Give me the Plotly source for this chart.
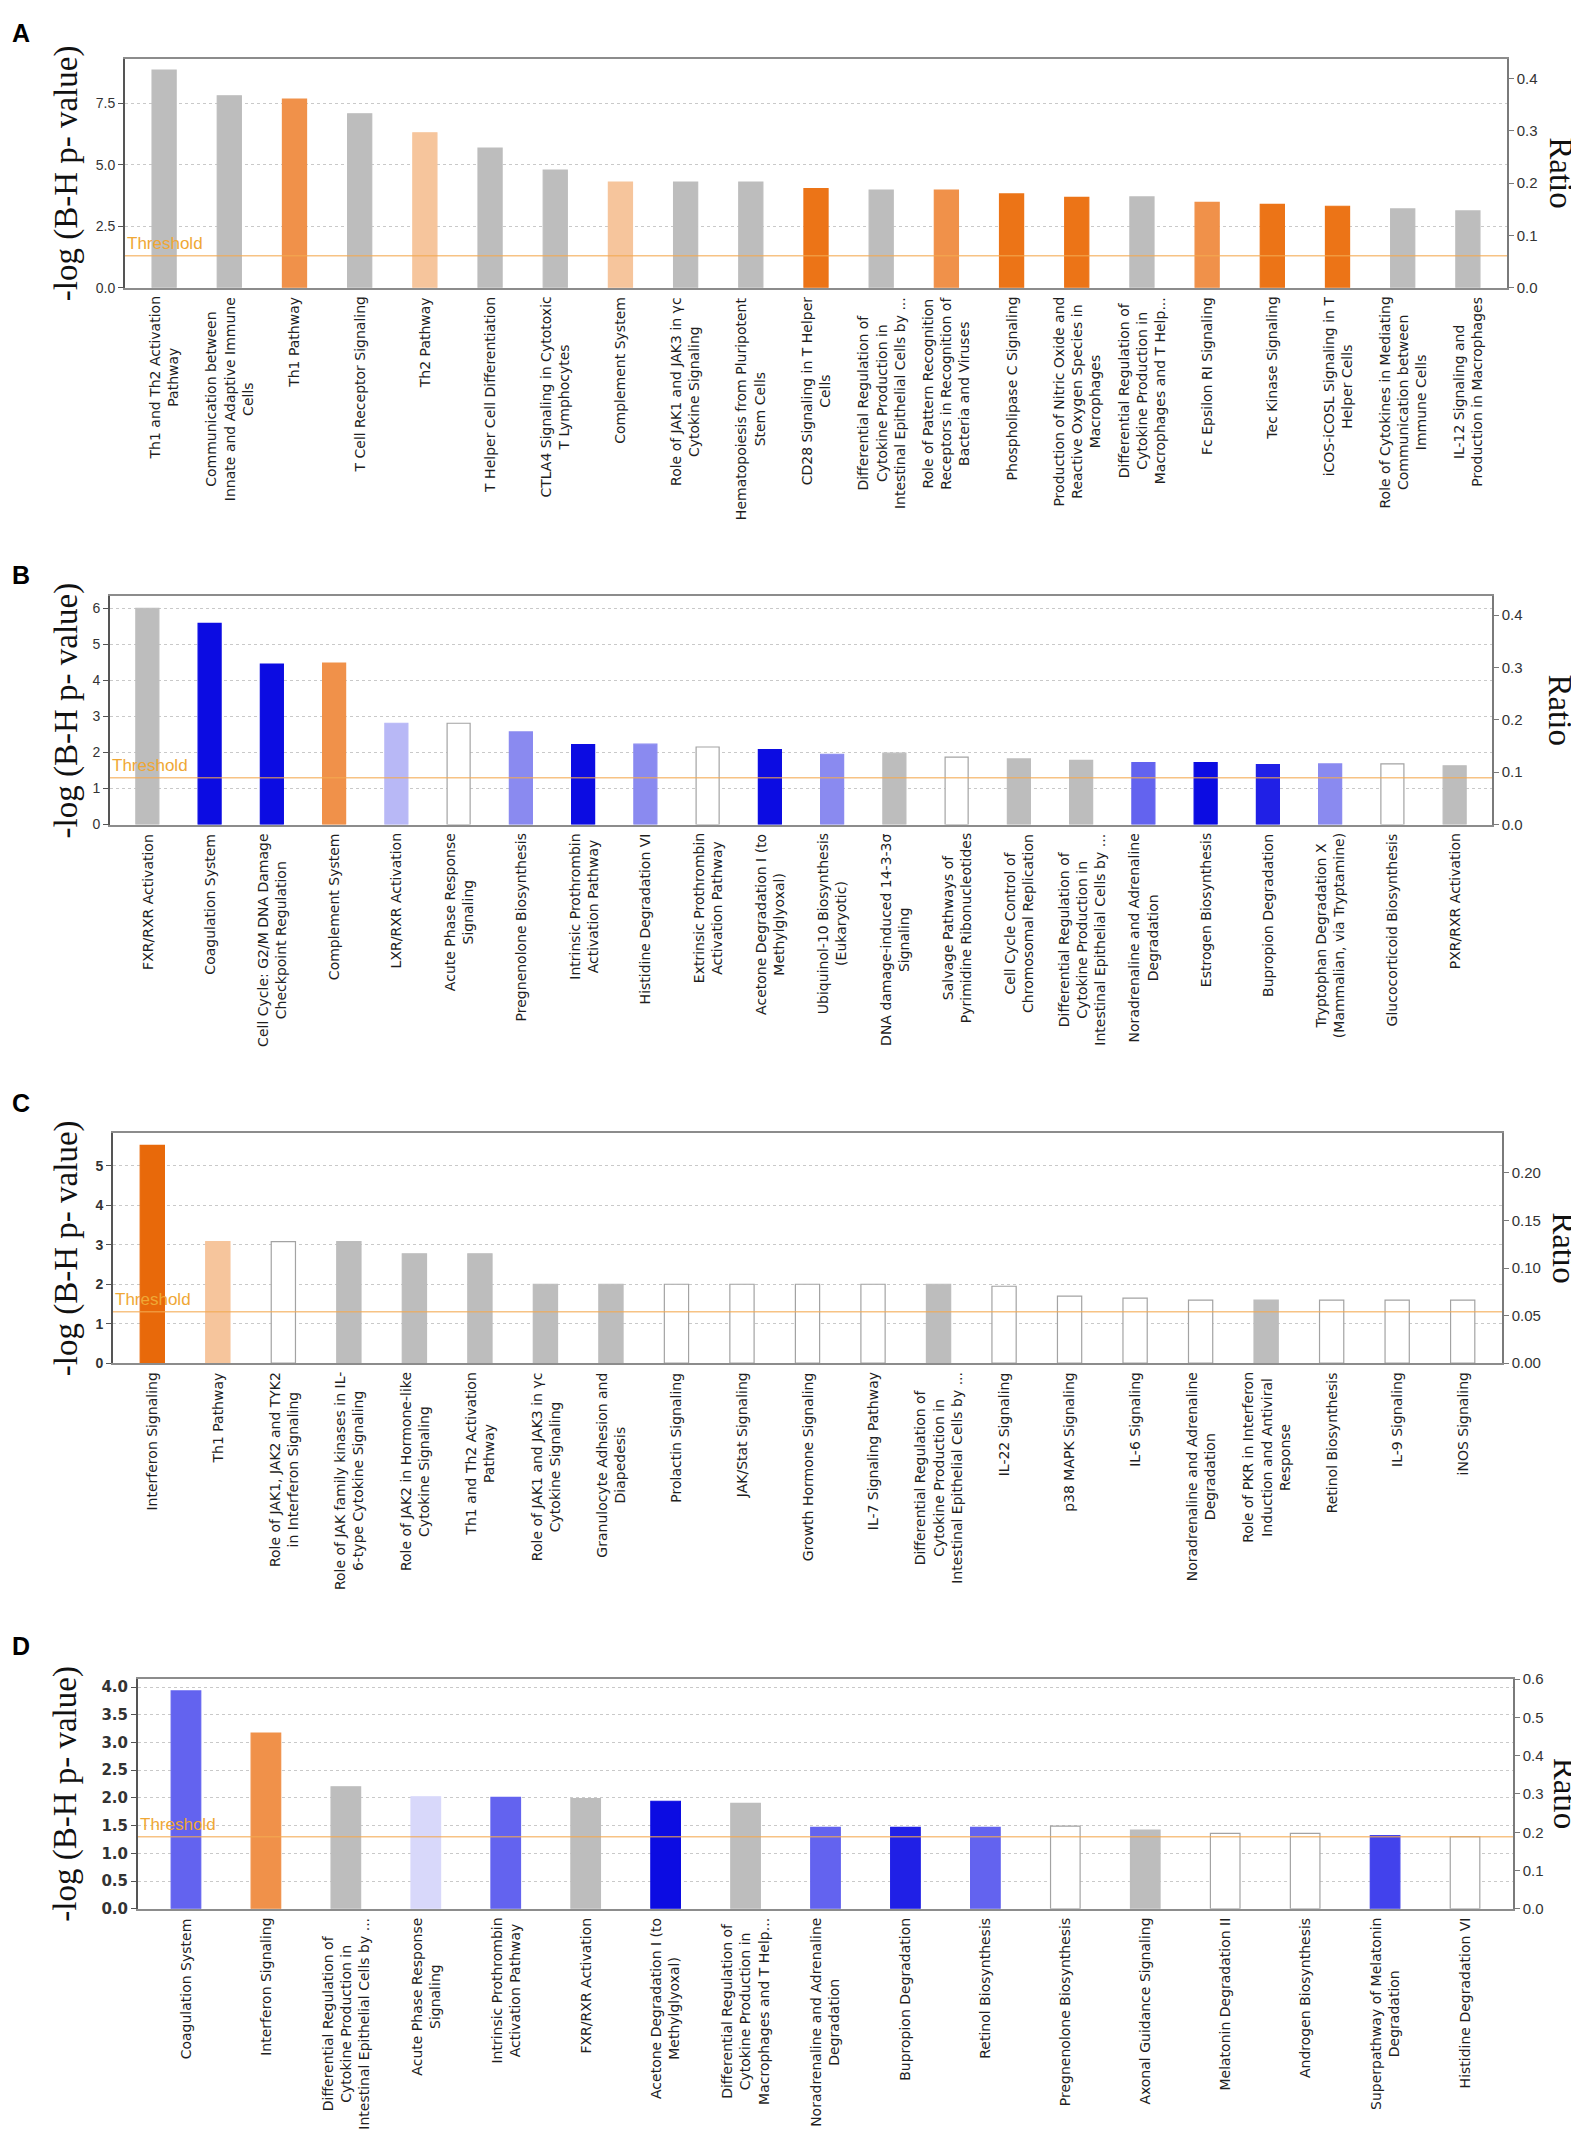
import plotly.graph_objects as go

# ---------------- data ----------------
THRESHOLD = 1.301  # -log10(0.05)

labels_A = [
    "Th1 and Th2 Activation<br>Pathway",
    "Communication between<br>Innate and Adaptive Immune<br>Cells",
    "Th1 Pathway",
    "T Cell Receptor Signaling",
    "Th2 Pathway",
    "T Helper Cell Differentiation",
    "CTLA4 Signaling in Cytotoxic<br>T Lymphocytes",
    "Complement System",
    "Role of JAK1 and JAK3 in γc<br>Cytokine Signaling",
    "Hematopoiesis from Pluripotent<br>Stem Cells",
    "CD28 Signaling in T Helper<br>Cells",
    "Differential Regulation of<br>Cytokine Production in<br>Intestinal Epithelial Cells by ...",
    "Role of Pattern Recognition<br>Receptors in Recognition of<br>Bacteria and Viruses",
    "Phospholipase C Signaling",
    "Production of Nitric Oxide and<br>Reactive Oxygen Species in<br>Macrophages",
    "Differential Regulation of<br>Cytokine Production in<br>Macrophages and T Help...",
    "Fc Epsilon RI Signaling",
    "Tec Kinase Signaling",
    "iCOS-iCOSL Signaling in T<br>Helper Cells",
    "Role of Cytokines in Mediating<br>Communication between<br>Immune Cells",
    "IL-12 Signaling and<br>Production in Macrophages",
]
values_A = [8.84, 7.79, 7.66, 7.06, 6.29, 5.67, 4.78, 4.29, 4.29, 4.29, 4.03,
            3.97, 3.97, 3.81, 3.67, 3.69, 3.47, 3.39, 3.31, 3.20, 3.12]
state_A = ["G", "G", "O2", "G", "O3", "G", "G", "O3", "G", "G", "O1",
           "G", "O2", "O1", "O1", "G", "O2", "O1", "O1", "G", "G"]

labels_B = [
    "FXR/RXR Activation",
    "Coagulation System",
    "Cell Cycle: G2/M DNA Damage<br>Checkpoint Regulation",
    "Complement System",
    "LXR/RXR Activation",
    "Acute Phase Response<br>Signaling",
    "Pregnenolone Biosynthesis",
    "Intrinsic Prothrombin<br>Activation Pathway",
    "Histidine Degradation VI",
    "Extrinsic Prothrombin<br>Activation Pathway",
    "Acetone Degradation I (to<br>Methylglyoxal)",
    "Ubiquinol-10 Biosynthesis<br>(Eukaryotic)",
    "DNA damage-induced 14-3-3σ<br>Signaling",
    "Salvage Pathways of<br>Pyrimidine Ribonucleotides",
    "Cell Cycle Control of<br>Chromosomal Replication",
    "Differential Regulation of<br>Cytokine Production in<br>Intestinal Epithelial Cells by ...",
    "Noradrenaline and Adrenaline<br>Degradation",
    "Estrogen Biosynthesis",
    "Bupropion Degradation",
    "Tryptophan Degradation X<br>(Mammalian, via Tryptamine)",
    "Glucocorticoid Biosynthesis",
    "PXR/RXR Activation",
]
values_B = [6.00, 5.58, 4.45, 4.48, 2.81, 2.81, 2.57, 2.22, 2.23, 2.15, 2.08,
            1.95, 1.98, 1.87, 1.82, 1.78, 1.72, 1.72, 1.66, 1.68, 1.68, 1.63]
state_B = ["G", "B1", "B1", "O2", "B5", "W", "B4", "B1", "B4", "W", "B1",
           "B4", "G", "W", "G", "G", "B3", "B1", "B1b", "B4", "W", "G"]

labels_C = [
    "Interferon Signaling",
    "Th1 Pathway",
    "Role of JAK1, JAK2 and TYK2<br>in Interferon Signaling",
    "Role of JAK family kinases in IL-<br>6-type Cytokine Signaling",
    "Role of JAK2 in Hormone-like<br>Cytokine Signaling",
    "Th1 and Th2 Activation<br>Pathway",
    "Role of JAK1 and JAK3 in γc<br>Cytokine Signaling",
    "Granulocyte Adhesion and<br>Diapedesis",
    "Prolactin Signaling",
    "JAK/Stat Signaling",
    "Growth Hormone Signaling",
    "IL-7 Signaling Pathway",
    "Differential Regulation of<br>Cytokine Production in<br>Intestinal Epithelial Cells by ...",
    "IL-22 Signaling",
    "p38 MAPK Signaling",
    "IL-6 Signaling",
    "Noradrenaline and Adrenaline<br>Degradation",
    "Role of PKR in Interferon<br>Induction and Antiviral<br>Response",
    "Retinol Biosynthesis",
    "IL-9 Signaling",
    "iNOS Signaling",
]
values_C = [5.52, 3.08, 3.08, 3.08, 2.77, 2.77, 2.00, 2.00, 2.00, 2.00, 2.00,
            2.00, 2.00, 1.95, 1.70, 1.65, 1.60, 1.60, 1.60, 1.60, 1.60]
state_C = ["O0", "O3", "W", "G", "G", "G", "G", "G", "W", "W", "W",
           "W", "G", "W", "W", "W", "W", "G", "W", "W", "W"]

labels_D = [
    "Coagulation System",
    "Interferon Signaling",
    "Differential Regulation of<br>Cytokine Production in<br>Intestinal Epithelial Cells by ...",
    "Acute Phase Response<br>Signaling",
    "Intrinsic Prothrombin<br>Activation Pathway",
    "FXR/RXR Activation",
    "Acetone Degradation I (to<br>Methylglyoxal)",
    "Differential Regulation of<br>Cytokine Production in<br>Macrophages and T Help...",
    "Noradrenaline and Adrenaline<br>Degradation",
    "Bupropion Degradation",
    "Retinol Biosynthesis",
    "Pregnenolone Biosynthesis",
    "Axonal Guidance Signaling",
    "Melatonin Degradation II",
    "Androgen Biosynthesis",
    "Superpathway of Melatonin<br>Degradation",
    "Histidine Degradation VI",
]
values_D = [3.93, 3.17, 2.20, 2.02, 2.01, 1.99, 1.94, 1.90, 1.47, 1.47, 1.47,
            1.49, 1.42, 1.36, 1.36, 1.32, 1.30]
state_D = ["B3", "O2", "G", "B6", "B3", "G", "B1", "G", "B3", "B1b", "B3",
           "W", "G", "W", "W", "B2", "W"]

# ---------------- styles ----------------
PALETTE = {
    "O0": "#e8690a", "O1": "#ec7417", "O2": "#f0914a", "O3": "#f6c59c",
    "B1": "#0c0ce2", "B1b": "#2020e6", "B2": "#4242ec", "B3": "#6363ef",
    "B4": "#8a8af0", "B5": "#b8b8f6", "B6": "#d8d8fa",
    "G": "#bdbdbd", "W": "#ffffff",
}
EDGE = {"W": "#a3a3a3"}

W, H = 1579, 2141

TICK_NORMAL = dict(family="Liberation Sans, Arial, sans-serif", size=14, color="#333333")
TICK_BOLD = dict(family="Liberation Sans, Arial, sans-serif", size=14, color="#333333",
                 weight="bold")
TICK_WIDE = dict(family="DejaVu Sans, Verdana, sans-serif", size=15, color="#333333",
                 weight="bold")
LABELFONT = dict(family="DejaVu Sans, Verdana, sans-serif", size=14, color="#1e1e1e")
TITLEFONT = dict(family="Liberation Serif, Times New Roman, serif", size=33, color="#111111")

panels = [
    dict(letter="A", labels=labels_A, values=values_A, states=state_A,
         ymax=9.3, ydtick=2.5, yfmt=".1f", rmax=0.4377, rdtick=0.1, rfmt=".1f",
         px=(117, 1499), py=(43, 274), letter_y=17, ratio_x=1553, tickfont=TICK_NORMAL),
    dict(letter="B", labels=labels_B, values=values_B, states=state_B,
         ymax=6.33, ydtick=1, yfmt="d", rmax=0.4357, rdtick=0.1, rfmt=".1f",
         px=(102, 1484), py=(585, 815), letter_y=563, ratio_x=1552, tickfont=TICK_NORMAL),
    dict(letter="C", labels=labels_C, values=values_C, states=state_C,
         ymax=5.83, ydtick=1, yfmt="d", rmax=0.242, rdtick=0.05, rfmt=".2f",
         px=(105, 1494), py=(1126, 1358), letter_y=1096, ratio_x=1556, tickfont=TICK_BOLD),
    dict(letter="D", labels=labels_D, values=values_D, states=state_D,
         ymax=4.15, ydtick=0.5, yfmt=".1f", rmax=0.601, rdtick=0.1, rfmt=".1f",
         px=(130, 1505), py=(1676, 1908), letter_y=1643, ratio_x=1557, tickfont=TICK_WIDE),
]

fig = go.Figure()
annotations = []
shapes = []
layout = {}

for i, p in enumerate(panels):
    n = len(p["labels"])
    xs = "" if i == 0 else str(i + 1)
    xa = "x" + xs
    yl_n, yr_n = 2 * i + 1, 2 * i + 2
    yl = "y" if yl_n == 1 else f"y{yl_n}"
    yr = f"y{yr_n}"
    xdom = [p["px"][0] / W, p["px"][1] / W]
    ydom = [1 - p["py"][1] / H, 1 - p["py"][0] / H]

    fills = [PALETTE[s] for s in p["states"]]
    edges = [EDGE.get(s, PALETTE[s]) for s in p["states"]]
    fig.add_trace(go.Bar(
        x=p["labels"], y=p["values"], xaxis=xa, yaxis=yl,
        marker=dict(color=fills, line=dict(color=edges, width=1.2)),
        showlegend=False, hoverinfo="y",
    ))
    # carrier for the right (Ratio) axis
    fig.add_trace(go.Scatter(
        x=p["labels"], y=[None] * n, xaxis=xa, yaxis=yr,
        mode="markers", showlegend=False, hoverinfo="skip",
    ))

    layout["xaxis" + xs] = dict(
        domain=xdom, anchor=yl, type="category",
        categoryorder="array", categoryarray=p["labels"],
        range=[-0.6, n - 0.4], showticklabels=False, ticks="",
        showline=True, linecolor="#8c8c8c", linewidth=1.5, mirror=True,
        showgrid=False, zeroline=False, fixedrange=True,
    )
    layout[f"yaxis{yl_n}" if yl_n > 1 else "yaxis"] = dict(
        domain=ydom, anchor=xa, range=[0, p["ymax"]], dtick=p["ydtick"],
        tick0=0, tickformat=p["yfmt"], showgrid=True, gridcolor="#c9c9c9",
        griddash="dot", gridwidth=1, zeroline=False, showline=True,
        linecolor="#555555", linewidth=2, ticks="outside", ticklen=5,
        tickcolor="#555555", tickfont=p["tickfont"], fixedrange=True,
    )
    layout[f"yaxis{yr_n}"] = dict(
        overlaying=yl, side="right", anchor=xa, range=[0, p["rmax"]],
        dtick=p["rdtick"], tick0=0, tickformat=p["rfmt"], showgrid=False,
        zeroline=False, showline=True, linecolor="#7a7a7a", linewidth=1.5,
        ticks="outside", ticklen=5, tickcolor="#7a7a7a",
        tickfont=dict(TICK_NORMAL, size=15), fixedrange=True,
    )

    # threshold line + label
    shapes.append(dict(
        type="line", xref=f"{xa} domain", x0=0, x1=1, yref=yl,
        y0=THRESHOLD, y1=THRESHOLD, layer="above",
        line=dict(color="rgba(243,170,80,0.7)", width=1.5),
    ))
    annotations.append(dict(
        text="Threshold", xref=f"{xa} domain", x=0, yref=yl, y=THRESHOLD,
        xanchor="left", yanchor="bottom", showarrow=False, yshift=1,
        font=dict(family="Liberation Sans Narrow, Liberation Sans, Arial", size=17,
                  color="#efa735"),
    ))

    # category labels (rotated, centred lines)
    for lab in p["labels"]:
        annotations.append(dict(
            text=lab, x=lab, xref=xa, y=0, yref=yl, yanchor="top",
            xanchor="center", textangle=-90, align="center", showarrow=False,
            yshift=-7, font=LABELFONT,
        ))

    # axis titles
    yc = 1 - (p["py"][0] + p["py"][1]) / 2 / H
    annotations.append(dict(
        text="-log (B-H p- value)", xref="paper", yref="paper", x=58 / W, y=yc,
        xanchor="center", yanchor="middle", textangle=-90, showarrow=False,
        font=TITLEFONT,
    ))
    annotations.append(dict(
        text="Ratio", xref="paper", yref="paper", x=p["ratio_x"] / W, y=yc,
        xanchor="center", yanchor="middle", textangle=90, showarrow=False,
        font=TITLEFONT,
    ))
    # panel letter
    annotations.append(dict(
        text=f"<b>{p['letter']}</b>", xref="paper", yref="paper", x=2 / W,
        y=1 - p["letter_y"] / H, xanchor="left", yanchor="middle",
        showarrow=False,
        font=dict(family="Liberation Sans, Arial, sans-serif", size=25, color="#000000"),
    ))

fig.update_layout(
    width=W, height=H, margin=dict(l=0, r=0, t=0, b=0),
    paper_bgcolor="white", plot_bgcolor="white",
    bargap=0.63, showlegend=False,
    annotations=annotations, shapes=shapes, **layout,
)

fig.write_html("out.html")
